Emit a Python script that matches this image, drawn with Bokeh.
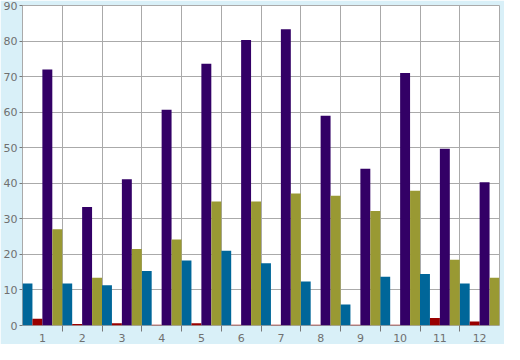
from bokeh.plotting import figure
from bokeh.models import FixedTicker, ColumnDataSource, Range1d
from bokeh.embed import file_html
from bokeh.resources import INLINE

categories = ["1", "2", "3", "4", "5", "6", "7", "8", "9", "10", "11", "12"]
teal_values = [11.8, 11.8, 11.3, 15.3, 18.3, 21.0, 17.5, 12.4, 5.9, 13.7, 14.5, 11.8]
red_values = [1.9, 0.4, 0.6, 0.2, 0.6, 0.2, 0.2, 0.2, 0.2, 0.2, 2.1, 1.1]
purple_values = [72.0, 33.3, 41.1, 60.7, 73.6, 80.3, 83.3, 59.0, 44.1, 71.0, 49.7, 40.3]
olive_values = [27.1, 13.4, 21.5, 24.2, 34.9, 34.9, 37.1, 36.5, 32.2, 37.9, 18.5, 13.4]
y_ticks = [0, 10, 20, 30, 40, 50, 60, 70, 80, 90]

series = [
    (teal_values, "#006699"),
    (red_values, "#990000"),
    (purple_values, "#330066"),
    (olive_values, "#999933"),
]

n = len(categories)
centers = [i + 1 for i in range(n)]
boundaries = [i + 1.5 for i in range(n - 1)]

p = figure(width=504, height=344, output_backend="svg", toolbar_location=None,
           x_range=Range1d(0.5, n + 0.5), y_range=Range1d(0, 90),
           min_border_left=12, min_border_right=5, min_border_top=5, min_border_bottom=4)

p.background_fill_color = "white"
p.border_fill_color = "#d9f0f8"
p.outline_line_color = "#aaaaaa"
p.outline_line_width = 1

bw = 1.0 / len(series)
for k, (vals, color) in enumerate(series):
    off = -0.5 + bw * (k + 0.5)
    src = ColumnDataSource(dict(x=[c + off for c in centers], top=vals))
    p.vbar(x="x", top="top", bottom=0, width=bw, source=src,
           fill_color=color, line_color=None)

# x axis
p.xaxis.ticker = FixedTicker(ticks=centers, minor_ticks=boundaries)
p.xaxis.major_label_overrides = {c: lab for c, lab in zip(centers, categories)}
p.xaxis.major_tick_line_color = None
p.xaxis.minor_tick_line_color = "#777777"
p.xaxis.minor_tick_out = 6
p.xaxis.minor_tick_in = 0
p.xaxis.axis_line_color = None
p.xaxis.major_label_standoff = 2
p.xgrid.ticker = FixedTicker(ticks=boundaries)

# y axis
p.yaxis.ticker = FixedTicker(ticks=y_ticks)
p.yaxis.major_tick_line_color = "#777777"
p.yaxis.major_tick_out = 3
p.yaxis.major_tick_in = 0
p.yaxis.minor_tick_line_color = None
p.yaxis.axis_line_color = None
p.yaxis.major_label_standoff = 2

for ax in (p.xaxis, p.yaxis):
    ax.major_label_text_font = "DejaVu Sans"
    ax.major_label_text_font_size = "11px"
    ax.major_label_text_color = "#707070"

for g in (p.xgrid, p.ygrid):
    g.grid_line_color = "#aaaaaa"
    g.grid_line_width = 1

open("out.html", "w").write(file_html(p, INLINE))
